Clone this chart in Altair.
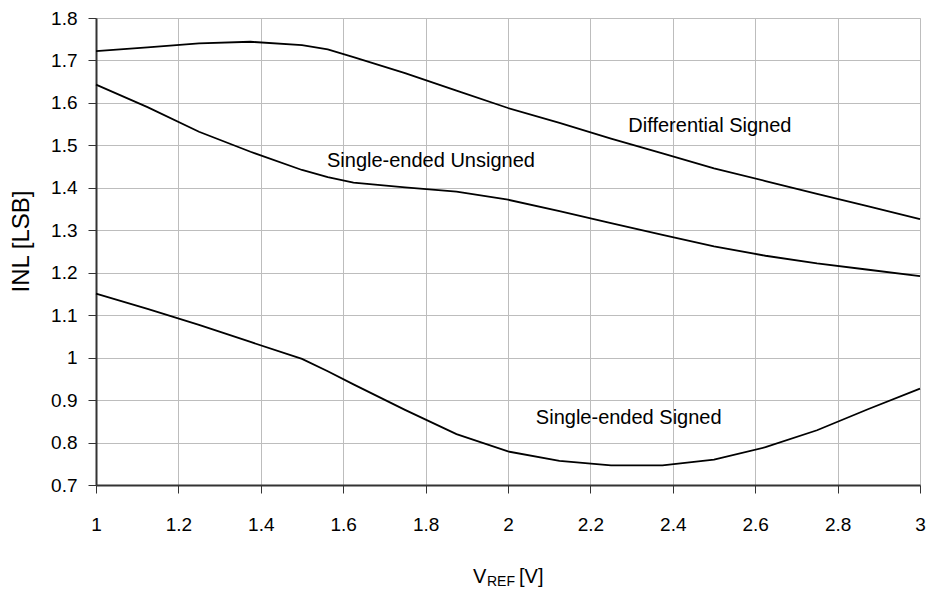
import altair as alt
import pandas as pd

# V_REF values (V)
vref = [1.0, 1.125, 1.25, 1.375, 1.5, 1.5625, 1.625, 1.75, 1.875, 2.0,
        2.125, 2.25, 2.375, 2.5, 2.625, 2.75, 2.875, 3.0]

diff_signed = [1.722, 1.731, 1.740, 1.744, 1.736, 1.726, 1.708, 1.670, 1.629, 1.588,
               1.553, 1.516, 1.481, 1.446, 1.416, 1.386, 1.356, 1.326]
se_unsigned = [1.643, 1.590, 1.532, 1.485, 1.442, 1.425, 1.412, 1.401, 1.391, 1.372,
               1.345, 1.317, 1.289, 1.262, 1.240, 1.222, 1.207, 1.192]
se_signed = [1.151, 1.115, 1.077, 1.037, 0.997, 0.968, 0.937, 0.877, 0.820, 0.779,
             0.757, 0.746, 0.746, 0.760, 0.789, 0.829, 0.879, 0.927]

series_names = ["Differential Signed", "Single-ended Unsigned", "Single-ended Signed"]
label_x = [2.49, 1.813, 2.293]
label_y = [1.546, 1.463, 0.858]

x_ticks = [1, 1.2, 1.4, 1.6, 1.8, 2, 2.2, 2.4, 2.6, 2.8, 3]
y_ticks = [0.7, 0.8, 0.9, 1.0, 1.1, 1.2, 1.3, 1.4, 1.5, 1.6, 1.7, 1.8]

rows = []
for name, vals in zip(series_names, [diff_signed, se_unsigned, se_signed]):
    for xv, yv in zip(vref, vals):
        rows.append({"series": name, "vref": xv, "inl": yv})
df = pd.DataFrame(rows)
labels_df = pd.DataFrame({"series": series_names, "x": label_x, "y": label_y})

FONT = "Liberation Sans"
W, H = 824, 467

xscale = alt.Scale(domain=[1, 3], nice=False, zero=False)
yscale = alt.Scale(domain=[0.7, 1.8], nice=False, zero=False)

lines = alt.Chart(df).mark_line(color="black", strokeWidth=1.8).encode(
    x=alt.X("vref:Q", scale=xscale,
            axis=alt.Axis(values=x_ticks, title=None, labelFontSize=19,
                          labelFont=FONT, labelColor="black", labelPadding=22,
                          tickSize=8, tickColor="#333333", tickWidth=1,
                          domainColor="#333333", domainWidth=2,
                          gridColor="#bdbdbd", gridWidth=1,
                          labelFlush=False,
                          labelExpr="format(datum.value, '~g')")),
    y=alt.Y("inl:Q", scale=yscale,
            axis=alt.Axis(values=y_ticks, title="INL [LSB]", labelFontSize=19,
                          labelFont=FONT, labelColor="black", labelPadding=11,
                          tickSize=8, tickColor="#333333", tickWidth=1,
                          domainColor="#333333", domainWidth=2,
                          gridColor="#bdbdbd", gridWidth=1,
                          titleFont=FONT, titleFontSize=24, titleFontWeight="normal",
                          titleColor="black", titleX=-75, titleY=223,
                          titleAngle=270, titleBaseline="middle", titleAlign="center",
                          labelFlush=False,
                          labelExpr="format(datum.value, '~g')")),
    detail="series:N",
)

texts = alt.Chart(labels_df).mark_text(
    font=FONT, fontSize=20, color="black", align="center", baseline="middle"
).encode(
    x=alt.X("x:Q", scale=xscale),
    y=alt.Y("y:Q", scale=yscale),
    text="series:N",
)

title_v = alt.Chart(pd.DataFrame({"t": ["V"]})).mark_text(
    font=FONT, fontSize=20, color="black", align="left", baseline="alphabetic"
).encode(x=alt.value(377), y=alt.value(565), text="t:N")
title_ref = alt.Chart(pd.DataFrame({"t": ["REF"]})).mark_text(
    font=FONT, fontSize=14, color="black", align="left", baseline="alphabetic"
).encode(x=alt.value(391), y=alt.value(568), text="t:N")
title_unit = alt.Chart(pd.DataFrame({"t": ["[V]"]})).mark_text(
    font=FONT, fontSize=20, color="black", align="left", baseline="alphabetic"
).encode(x=alt.value(423), y=alt.value(565), text="t:N")

chart = alt.layer(lines, texts, title_v, title_ref, title_unit).properties(
    width=W, height=H,
    autosize=alt.AutoSizeParams(type="none"),
    padding={"left": 88, "top": 10, "right": 6, "bottom": 104},
).configure_view(stroke="#8a8a8a", strokeWidth=1.5).configure(background="white")

chart.save("out.html", embed_options={"renderer": "svg", "actions": False})
